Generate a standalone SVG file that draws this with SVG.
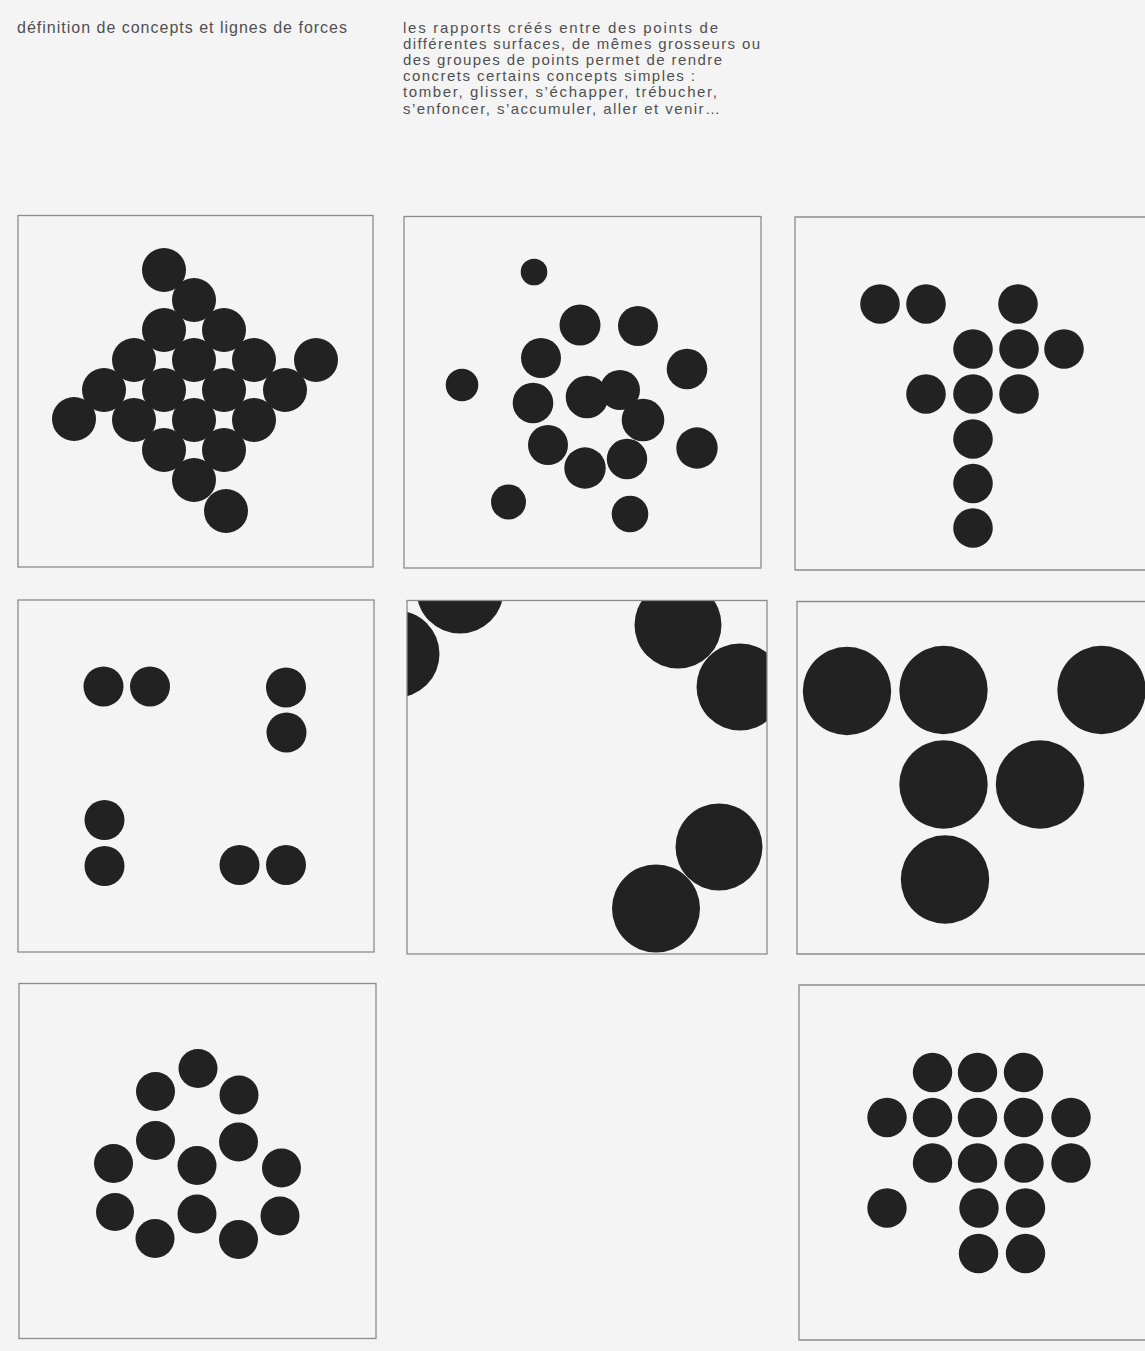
<svg xmlns="http://www.w3.org/2000/svg" width="1145" height="1351" viewBox="0 0 1145 1351">
<style>
.t{font-family:"Liberation Sans",Arial,sans-serif;fill:#505050}
.h{font-size:16px}
.b{font-size:15px}
.f{fill:none;stroke:#8c8c8c;stroke-width:1.3}
.d{fill:#222}
</style>
<defs>
<clipPath id="c5"><rect x="407" y="600" width="360" height="354"/></clipPath>
<clipPath id="c6"><rect x="797" y="601" width="348" height="353"/></clipPath>
</defs>
<rect x="0" y="0" width="1145" height="1351" fill="#f4f4f4"/>
<g id="title">
<text class="t h" x="17" y="32.5" textLength="330" lengthAdjust="spacing">définition de concepts et lignes de forces</text>
</g>
<g id="description">
<text class="t b" x="403" y="32.5" textLength="315" lengthAdjust="spacing">les rapports créés entre des points de</text>
<text class="t b" x="403" y="48.7" textLength="357" lengthAdjust="spacing">différentes surfaces, de mêmes grosseurs ou</text>
<text class="t b" x="403" y="64.9" textLength="319" lengthAdjust="spacing">des groupes de points permet de rendre</text>
<text class="t b" x="403" y="81.1" textLength="292" lengthAdjust="spacing">concrets certains concepts simples :</text>
<text class="t b" x="403" y="97.3" textLength="314" lengthAdjust="spacing">tomber, glisser, s’échapper, trébucher,</text>
<text class="t b" x="403" y="113.5" textLength="317" lengthAdjust="spacing">s’enfoncer, s’accumuler, aller et venir…</text>
</g>
<g id="panel1">
<rect class="f" x="18" y="215.5" width="355" height="351.5"/>
<g class="d">
<circle cx="164" cy="270" r="22"/>
<circle cx="194" cy="300" r="22"/>
<circle cx="164" cy="330" r="22"/><circle cx="224" cy="330" r="22"/>
<circle cx="134" cy="360" r="22"/><circle cx="194" cy="360" r="22"/><circle cx="254" cy="360" r="22"/><circle cx="316" cy="360" r="22"/>
<circle cx="104" cy="390" r="22"/><circle cx="164" cy="390" r="22"/><circle cx="224" cy="390" r="22"/><circle cx="285" cy="390" r="22"/>
<circle cx="74" cy="419" r="22"/><circle cx="134" cy="420" r="22"/><circle cx="194" cy="420" r="22"/><circle cx="254" cy="420" r="22"/>
<circle cx="164" cy="450" r="22"/><circle cx="224" cy="450" r="22"/>
<circle cx="194" cy="480" r="22"/>
<circle cx="226" cy="511" r="22"/>
</g>
</g>
<g id="panel2">
<rect class="f" x="404" y="216.5" width="357" height="351.5"/>
<g class="d">
<circle cx="534" cy="272" r="13.3"/>
<circle cx="580" cy="325" r="20.5"/>
<circle cx="638" cy="326" r="20"/>
<circle cx="541" cy="358" r="20"/>
<circle cx="687" cy="369" r="20.3"/>
<circle cx="462" cy="385" r="16.3"/>
<circle cx="533" cy="403" r="20.3"/>
<circle cx="587" cy="397" r="21.3"/>
<circle cx="620" cy="390" r="20"/>
<circle cx="643" cy="420" r="21.3"/>
<circle cx="697" cy="448" r="20.7"/>
<circle cx="548" cy="445" r="20"/>
<circle cx="585" cy="468" r="20.7"/>
<circle cx="627" cy="459" r="20.2"/>
<circle cx="508.5" cy="502" r="17.5"/>
<circle cx="630" cy="514" r="18.3"/>
</g>
</g>
<g id="panel3">
<path class="f" d="M1150 217H795V570H1150"/>
<g class="d">
<circle cx="880" cy="304" r="19.8"/><circle cx="926" cy="304" r="19.8"/><circle cx="1018" cy="304" r="19.8"/>
<circle cx="973" cy="349" r="19.8"/><circle cx="1019" cy="349" r="19.8"/><circle cx="1064" cy="349" r="19.8"/>
<circle cx="926" cy="394" r="19.8"/><circle cx="973" cy="394" r="19.8"/><circle cx="1019" cy="394" r="19.8"/>
<circle cx="973" cy="439" r="19.8"/>
<circle cx="973" cy="483.5" r="19.8"/>
<circle cx="973" cy="528" r="19.8"/>
</g>
</g>
<g id="panel4">
<rect class="f" x="18" y="600" width="356" height="352"/>
<g class="d">
<circle cx="103.5" cy="686.5" r="20"/><circle cx="150" cy="686.5" r="20"/>
<circle cx="286" cy="687.5" r="20"/><circle cx="286.5" cy="732.5" r="20"/>
<circle cx="104.5" cy="820" r="20"/><circle cx="104.5" cy="866" r="20"/>
<circle cx="239.5" cy="865" r="20"/><circle cx="286" cy="865" r="20"/>
</g>
</g>
<g id="panel5">
<g class="d" clip-path="url(#c5)">
<circle cx="460" cy="590" r="43.5"/>
<circle cx="396" cy="654" r="43.5"/>
<circle cx="678" cy="625" r="43.5"/>
<circle cx="740" cy="687" r="43.5"/>
<circle cx="719" cy="847" r="43.5"/>
<circle cx="656" cy="908.5" r="44"/>
</g>
<rect class="f" x="407" y="600.5" width="360" height="353.5"/>
</g>
<g id="panel6">
<g class="d" clip-path="url(#c6)">
<circle cx="847" cy="691" r="44.2"/>
<circle cx="943.5" cy="690" r="44.2"/>
<circle cx="1101.5" cy="690" r="44.2"/>
<circle cx="943.5" cy="784.5" r="44.2"/>
<circle cx="1040" cy="784.5" r="44.2"/>
<circle cx="945" cy="879.5" r="44.2"/>
</g>
<path class="f" d="M1150 601.5H797V954H1150"/>
</g>
<g id="panel7">
<rect class="f" x="19" y="983.5" width="357" height="355"/>
<g class="d">
<circle cx="198" cy="1068.5" r="19.5"/>
<circle cx="155.5" cy="1091.5" r="19.5"/><circle cx="239" cy="1095" r="19.5"/>
<circle cx="155.5" cy="1140.5" r="19.5"/><circle cx="238.5" cy="1142" r="19.5"/>
<circle cx="113.5" cy="1163.5" r="19.5"/><circle cx="197" cy="1165.5" r="19.5"/><circle cx="281.5" cy="1168" r="19.5"/>
<circle cx="115" cy="1212" r="19"/><circle cx="197" cy="1214" r="19.5"/><circle cx="280" cy="1216" r="19.5"/>
<circle cx="155" cy="1238.5" r="19.5"/><circle cx="238.5" cy="1239.5" r="19.5"/>
</g>
</g>
<g id="panel9">
<path class="f" d="M1150 985H799V1340H1150"/>
<g class="d">
<circle cx="932.5" cy="1072.5" r="19.7"/><circle cx="977.5" cy="1072.5" r="19.7"/><circle cx="1023.5" cy="1072.5" r="19.7"/>
<circle cx="887" cy="1117.5" r="19.7"/><circle cx="932.5" cy="1117.5" r="19.7"/><circle cx="977.5" cy="1117.5" r="19.7"/><circle cx="1023.5" cy="1117.5" r="19.7"/><circle cx="1071" cy="1117.5" r="19.7"/>
<circle cx="932.5" cy="1163" r="19.7"/><circle cx="977.5" cy="1163" r="19.7"/><circle cx="1024" cy="1163" r="19.7"/><circle cx="1071" cy="1163" r="19.7"/>
<circle cx="887" cy="1208" r="19.7"/><circle cx="979" cy="1208" r="19.7"/><circle cx="1025.5" cy="1208" r="19.7"/>
<circle cx="978.5" cy="1253.5" r="19.7"/><circle cx="1025.5" cy="1253.5" r="19.7"/>
</g>
</g>
</svg>
